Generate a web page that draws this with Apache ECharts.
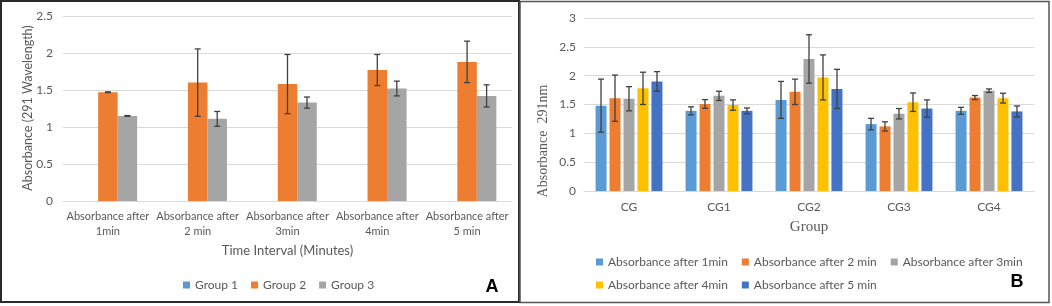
<!DOCTYPE html>
<html>
<head>
<meta charset="utf-8">
<script src="https://cdn.jsdelivr.net/npm/echarts@6/dist/echarts.min.js"></script>
<style>
  html, body { margin: 0; padding: 0; background: #fff; }
  #chart { width: 1052px; height: 306px; }
</style>
</head>
<body>
<div id="chart"></div>
<script>
// panel A data
const timeLabels = ['Absorbance after\n1min', 'Absorbance after\n2 min', 'Absorbance after\n3min', 'Absorbance after\n4min', 'Absorbance after\n5 min']
const groupNames = ['Group 1', 'Group 2', 'Group 3']
const group1 = [null, null, null, null, null]
const group2 = [1.47, 1.60, 1.58, 1.77, 1.88]
const group2Err = [0.005, 0.455, 0.40, 0.21, 0.28]
const group3 = [1.15, 1.11, 1.33, 1.52, 1.42]
const group3Err = [0.005, 0.10, 0.075, 0.10, 0.15]
const ticksA = [0, 0.5, 1, 1.5, 2, 2.5]

// panel B data
const groupLabels = ['CG', 'CG1', 'CG2', 'CG3', 'CG4']
const minuteNames = ['Absorbance after 1min', 'Absorbance after 2 min', 'Absorbance after 3min', 'Absorbance after 4min', 'Absorbance after 5 min']
const after1 = [1.48, 1.39, 1.58, 1.16, 1.39]
const after1Err = [0.46, 0.07, 0.32, 0.10, 0.06]
const after2 = [1.61, 1.51, 1.72, 1.12, 1.62]
const after2Err = [0.40, 0.075, 0.22, 0.08, 0.035]
const after3 = [1.60, 1.65, 2.29, 1.34, 1.74]
const after3Err = [0.21, 0.08, 0.42, 0.09, 0.03]
const after4 = [1.78, 1.49, 1.97, 1.54, 1.61]
const after4Err = [0.28, 0.09, 0.39, 0.16, 0.085]
const after5 = [1.90, 1.39, 1.77, 1.43, 1.38]
const after5Err = [0.17, 0.05, 0.34, 0.15, 0.095]
const ticksB = [0, 0.5, 1, 1.5, 2, 2.5, 3]

const colors = ['#5B9BD5', '#ED7D31', '#A5A5A5', '#FFC000', '#4472C4']
const sans = 'Lato'
const serif = 'Liberation Serif'
const textGray = '#595959'

// error bars drawn as custom series, shifted to sit on each grouped bar
function errorBars(values, errs, axisIdx, offset) {
  const data = values.map((v, i) => [i, v - errs[i], v + errs[i]])
  return {
    type: 'custom',
    xAxisIndex: axisIdx,
    yAxisIndex: axisIdx,
    z: 10,
    silent: true,
    encode: { x: 0, y: [1, 2] },
    data,
    renderItem(params, api) {
      const i = api.value(0)
      const hi = api.coord([i, api.value(2)])
      const lo = api.coord([i, api.value(1)])
      const x = hi[0] + offset
      const style = { stroke: '#404040', lineWidth: 1.3 }
      const cap = 3
      return {
        type: 'group',
        children: [
          { type: 'line', shape: { x1: x, y1: hi[1], x2: x, y2: lo[1] }, style },
          { type: 'line', shape: { x1: x - cap, y1: hi[1], x2: x + cap, y2: hi[1] }, style },
          { type: 'line', shape: { x1: x - cap, y1: lo[1], x2: x + cap, y2: lo[1] }, style }
        ]
      }
    }
  }
}

function valueAxis(idx, ticks, margin) {
  return {
    type: 'value', gridIndex: idx,
    min: ticks[0], max: ticks[ticks.length - 1], interval: 0.5,
    axisLine: { show: false }, axisTick: { show: false },
    splitLine: { lineStyle: { color: '#d9d9d9', width: 1 } },
    axisLabel: { color: textGray, fontFamily: sans, fontSize: 12, margin }
  }
}

const chart = echarts.init(document.getElementById('chart'))

const barWA = 19.5
const barWB = 11
const offsB = [-28, -14, 0, 14, 28]
const legendText = { color: textGray, fontFamily: sans, fontSize: 12 }

chart.setOption({
  animation: false,
  backgroundColor: '#fff',
  grid: [
    { left: 63, right: 540, top: 16, bottom: 105 },
    { left: 584, right: 18, top: 18, bottom: 115 }
  ],
  xAxis: [
    {
      type: 'category', gridIndex: 0, data: timeLabels,
      axisLine: { lineStyle: { color: '#d9d9d9' } }, axisTick: { show: false },
      axisLabel: { color: textGray, fontFamily: sans, fontSize: 11, lineHeight: 15, margin: 8, interval: 0 },
      name: 'Time Interval (Minutes)', nameLocation: 'middle', nameGap: 42,
      nameTextStyle: { color: textGray, fontFamily: sans, fontSize: 13 }
    },
    {
      type: 'category', gridIndex: 1, data: groupLabels,
      axisLine: { lineStyle: { color: '#d9d9d9' } }, axisTick: { show: false },
      axisLabel: { color: textGray, fontFamily: sans, fontSize: 12, margin: 10 },
      name: 'Group', nameLocation: 'middle', nameGap: 29,
      nameTextStyle: { color: textGray, fontFamily: serif, fontSize: 15 }
    }
  ],
  yAxis: [valueAxis(0, ticksA, 10), valueAxis(1, ticksB, 8)],
  legend: [
    {
      data: groupNames, left: 183, top: 279, padding: 0, icon: 'rect', itemWidth: 7, itemHeight: 7, itemGap: 13,
      textStyle: legendText
    },
    {
      data: minuteNames.slice(0, 3), left: 596, top: 256, padding: 0, icon: 'rect', itemWidth: 7, itemHeight: 7, itemGap: 14,
      textStyle: legendText
    },
    {
      data: minuteNames.slice(3), left: 596, top: 279, padding: 0, icon: 'rect', itemWidth: 7, itemHeight: 7, itemGap: 14,
      textStyle: legendText
    }
  ],
  graphic: [
    { type: 'rect', shape: { x: 1, y: 1, width: 518, height: 301 }, style: { fill: 'none', stroke: '#2b2b2b', lineWidth: 2 }, z: 100 },
    { type: 'rect', shape: { x: 520, y: 1.5, width: 529, height: 301 }, style: { fill: 'none', stroke: '#555', lineWidth: 1.5 }, z: 100 },
    { type: 'text', x: 28, y: 108, rotation: Math.PI / 2, style: { text: 'Absorbance (291 Wavelength)', fill: textGray, font: '12.5px Lato', align: 'center', verticalAlign: 'middle' } },
    { type: 'text', x: 543, y: 141, rotation: Math.PI / 2, style: { text: 'Absorbance  291nm', fill: textGray, font: '14px "Liberation Serif"', align: 'center', verticalAlign: 'middle' } },
    { type: 'text', x: 492, y: 287, style: { text: 'A', fill: '#000', font: 'bold 18px "Liberation Sans"', align: 'center', verticalAlign: 'middle' } },
    { type: 'text', x: 1017, y: 282, style: { text: 'B', fill: '#000', font: 'bold 18px "Liberation Sans"', align: 'center', verticalAlign: 'middle' } }
  ],
  series: [
    { name: groupNames[0], type: 'bar', xAxisIndex: 0, yAxisIndex: 0, data: group1, barWidth: barWA, barGap: '0%', itemStyle: { color: colors[0] } },
    { name: groupNames[1], type: 'bar', xAxisIndex: 0, yAxisIndex: 0, data: group2, barWidth: barWA, barGap: '0%', itemStyle: { color: colors[1] } },
    { name: groupNames[2], type: 'bar', xAxisIndex: 0, yAxisIndex: 0, data: group3, barWidth: barWA, barGap: '0%', itemStyle: { color: colors[2] } },
    errorBars(group2, group2Err, 0, 0),
    errorBars(group3, group3Err, 0, barWA),

    { name: minuteNames[0], type: 'bar', xAxisIndex: 1, yAxisIndex: 1, data: after1, barWidth: barWB, barGap: '27%', itemStyle: { color: colors[0] } },
    { name: minuteNames[1], type: 'bar', xAxisIndex: 1, yAxisIndex: 1, data: after2, barWidth: barWB, barGap: '27%', itemStyle: { color: colors[1] } },
    { name: minuteNames[2], type: 'bar', xAxisIndex: 1, yAxisIndex: 1, data: after3, barWidth: barWB, barGap: '27%', itemStyle: { color: colors[2] } },
    { name: minuteNames[3], type: 'bar', xAxisIndex: 1, yAxisIndex: 1, data: after4, barWidth: barWB, barGap: '27%', itemStyle: { color: colors[3] } },
    { name: minuteNames[4], type: 'bar', xAxisIndex: 1, yAxisIndex: 1, data: after5, barWidth: barWB, barGap: '27%', itemStyle: { color: colors[4] } },
    errorBars(after1, after1Err, 1, offsB[0]),
    errorBars(after2, after2Err, 1, offsB[1]),
    errorBars(after3, after3Err, 1, offsB[2]),
    errorBars(after4, after4Err, 1, offsB[3]),
    errorBars(after5, after5Err, 1, offsB[4])
  ]
})
</script>
</body>
</html>
